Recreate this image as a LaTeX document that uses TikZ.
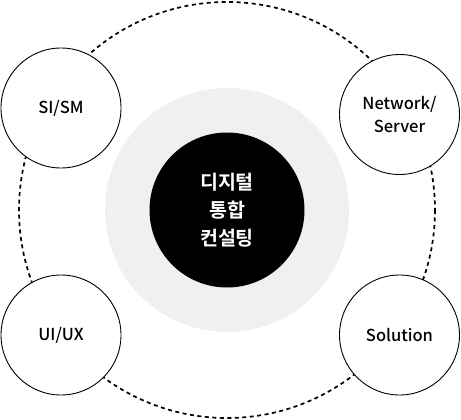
\documentclass[tikz,border=0pt]{standalone}
\usepackage{fontspec}
\setmainfont{Noto Sans CJK KR}[UprightFont=* Medium, BoldFont=* Bold]
\usetikzlibrary{positioning}

\tikzset{
  field/.style={circle, draw=black, line width=0.9pt, fill=white, minimum size=120pt, inner sep=0pt, align=center, font=\fontsize{16.5}{23}\selectfont},
  ring/.style={dash pattern=on 4pt off 3.5pt, line width=1.7pt}
}

\begin{document}
\begin{tikzpicture}[x=1pt, y=-1pt]
\useasboundingbox (0, 0) rectangle (461, 420);

\draw[ring] (227, 210) circle (208);
\fill[black!6] (227, 210) circle (122);

\node[circle, fill=black, minimum size=155pt, inner sep=0pt, text=white, align=center,
  font=\bfseries\fontsize{19.5}{28}\selectfont] (core) at (227, 210) {디지털\\통합\\컨설팅};

\node[field] (sism) at (61, 108) {SI/SM};
\node[field] (net) at (399.5, 114.5) {Network/\\Server};
\node[field] (uiux) at (61, 335) {UI/UX};
\node[field] (sol) at (399.5, 335) {Solution};

\end{tikzpicture}
\end{document}
